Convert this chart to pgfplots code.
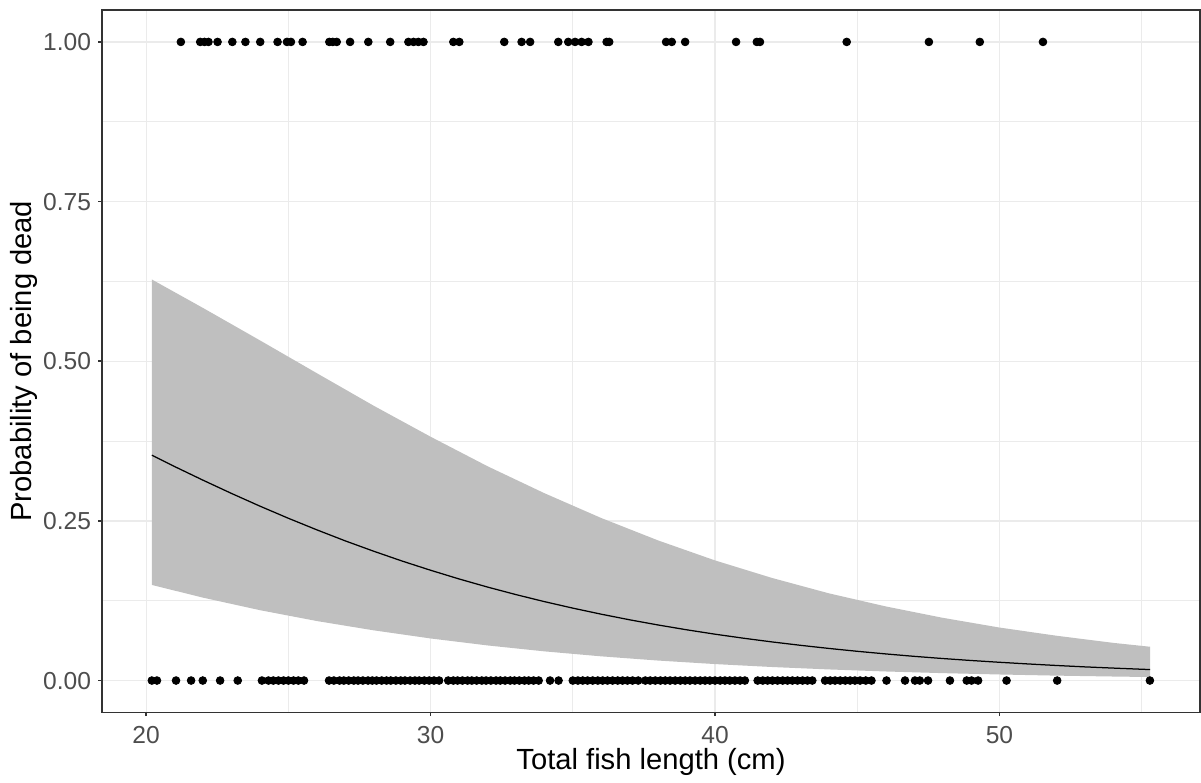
\documentclass[border=0pt]{standalone}
\usepackage{pgfplots}
\pgfplotsset{compat=1.18}
\usepackage{fontspec}
\setmainfont{Liberation Sans}
\definecolor{grid92}{RGB}{235,235,235}
\definecolor{grey20}{RGB}{51,51,51}
\definecolor{grey30}{RGB}{77,77,77}
\definecolor{band}{RGB}{191,191,191}
\begin{document}
\begin{tikzpicture}
\begin{axis}[
  at={(0,0)}, anchor=south west,
  scale only axis,
  width=527pt, height=337.2pt,
  xmin=18.45, xmax=57.05,
  ymin=-0.05, ymax=1.05,
  xtick={20,30,40,50},
  ytick={0,0.25,0.5,0.75,1},
  minor xtick={25,35,45,55},
  minor ytick={0.125,0.375,0.625,0.875},
  grid=both,
  major grid style={color=grid92, line width=0.6pt},
  minor grid style={color=grid92, line width=0.35pt},
  axis line style={color=grey20, line width=0.8pt},
  tick align=outside,
  major tick length=1.8pt,
  minor tick length=0pt,
  tick style={color=grey20, line width=0.8pt},
  xtick pos=bottom, ytick pos=left,
  /pgf/number format/assume math mode=true,
  yticklabel style={/pgf/number format/fixed, /pgf/number format/fixed zerofill, /pgf/number format/precision=2},
  xticklabel style={yshift=-1.2pt},
  ticklabel style={font=\fontsize{11.8}{13}\selectfont, color=grey30},
  xlabel={Total fish length (cm)},
  ylabel={Probability of being dead},
  label style={font=\fontsize{14}{16}\selectfont, color=black},
  xlabel style={at={(axis description cs:0.5,-0.0705)}, anchor=center},
  ylabel style={at={(axis description cs:-0.0715,0.5)}, anchor=center},
]
% confidence band (upper left to right, lower right to left)
\addplot[fill=band, draw=none] coordinates {
(20.2,0.628) (22,0.5834) (24,0.5327) (26,0.4813) (28,0.4303) (30,0.3818)
(32,0.3356) (34,0.2934) (36,0.2545) (38,0.2194) (40,0.1881) (42,0.1607)
(44,0.1366) (46,0.1161) (48,0.0983) (50,0.0830) (52,0.0702) (54,0.0590) (55.3,0.0529)
(55.3,0.0055) (54,0.0063) (52,0.0077) (50,0.0095) (48,0.0116) (46,0.0142)
(44,0.0174) (42,0.0212) (40,0.0258) (38,0.0313) (36,0.0379) (34,0.0457)
(32,0.0550) (30,0.0659) (28,0.0786) (26,0.0932) (24,0.1102) (22,0.1298) (20.2,0.1497)
} -- cycle;
% fitted curve
\addplot[black, line width=0.6pt] coordinates {
(20.2,0.3529) (21,0.3351) (22,0.3137) (23,0.2930) (24,0.2731) (25,0.2541)
(26,0.2360) (27,0.2187) (28,0.2025) (29,0.1871) (30,0.1727) (31,0.1591)
(32,0.1464) (33,0.1346) (34,0.1236) (35,0.1134) (36,0.1039) (37,0.0951)
(38,0.0870) (39,0.0795) (40,0.0726) (41,0.0663) (42,0.0605) (43,0.0552)
(44,0.0503) (45,0.0458) (46,0.0417) (47,0.0379) (48,0.0345) (49,0.0314)
(50,0.0286) (51,0.0260) (52,0.0236) (53,0.0214) (54,0.0195) (55,0.0177) (55.3,0.0172)
};
% dead fish
\addplot[only marks, mark=*, mark size=1.85pt, black] coordinates {
(21.22,1) (21.90,1) (22.05,1) (22.19,1) (22.51,1) (23.03,1) (23.49,1) (24.01,1)
(24.62,1) (24.95,1) (25.09,1) (25.50,1) (26.44,1) (26.56,1) (26.70,1) (27.17,1)
(27.81,1) (28.58,1) (29.22,1) (29.40,1) (29.57,1) (29.75,1) (30.80,1) (31.01,1)
(32.59,1) (33.20,1) (33.50,1) (34.49,1) (34.84,1) (35.08,1) (35.31,1) (35.55,1)
(36.19,1) (36.28,1) (38.28,1) (38.48,1) (38.95,1) (40.74,1) (41.47,1) (41.58,1)
(44.63,1) (47.52,1) (49.31,1) (51.53,1)
};
% alive fish
\addplot[only marks, mark=*, mark size=1.85pt, black] coordinates {
(20.20,0) (20.38,0) (21.05,0) (21.58,0) (21.99,0) (22.60,0) (23.22,0)
(24.07,0) (24.30,0) (24.47,0) (24.65,0) (24.83,0) (25.00,0) (25.18,0) (25.35,0) (25.55,0)
(26.43,0) (26.60,0) (26.80,0) (26.95,0) (27.12,0) (27.30,0) (27.45,0) (27.62,0)
(27.80,0) (27.95,0) (28.10,0) (28.28,0) (28.45,0) (28.60,0) (28.78,0) (28.95,0)
(29.10,0) (29.28,0) (29.45,0) (29.60,0) (29.78,0) (29.95,0) (30.12,0) (30.30,0)
(30.62,0) (30.80,0) (30.95,0) (31.12,0) (31.30,0) (31.45,0) (31.62,0) (31.80,0)
(31.95,0) (32.12,0) (32.30,0) (32.45,0) (32.62,0) (32.80,0) (32.95,0) (33.12,0)
(33.30,0) (33.45,0) (33.62,0) (33.80,0)
(34.20,0) (34.50,0)
(35.00,0) (35.18,0) (35.35,0) (35.52,0) (35.70,0) (35.88,0) (36.05,0) (36.22,0)
(36.40,0) (36.58,0) (36.75,0) (36.92,0) (37.10,0) (37.30,0)
(37.55,0) (37.72,0) (37.90,0) (38.08,0) (38.25,0) (38.42,0) (38.60,0) (38.78,0)
(38.95,0) (39.12,0) (39.30,0) (39.48,0) (39.65,0) (39.82,0) (40.00,0) (40.18,0)
(40.35,0) (40.52,0) (40.70,0) (40.88,0) (41.05,0)
(41.50,0) (41.68,0) (41.85,0) (42.02,0) (42.20,0) (42.38,0) (42.55,0) (42.72,0)
(42.90,0) (43.08,0) (43.25,0) (43.42,0)
(43.87,0) (44.05,0) (44.22,0) (44.40,0) (44.58,0) (44.75,0) (44.92,0) (45.10,0)
(45.30,0) (45.50,0)
(46.03,0) (46.68,0) (47.03,0) (47.20,0) (47.49,0) (48.26,0) (48.85,0) (49.02,0)
(49.25,0) (50.25,0) (52.03,0) (55.29,0)
};
\end{axis}
\pgfresetboundingbox
\path[use as bounding box] (-49pt,-33.4pt) rectangle (527.5pt,342pt);
\end{tikzpicture}
\end{document}
